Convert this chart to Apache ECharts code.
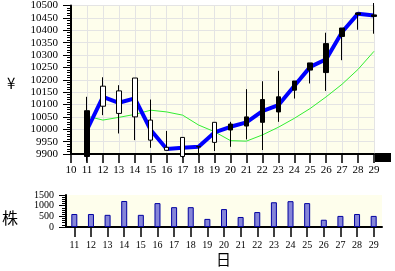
<!DOCTYPE html>
<html><head><meta charset="utf-8">
<script src="https://cdn.jsdelivr.net/npm/echarts@6/dist/echarts.min.js"></script>
<style>html,body{margin:0;padding:0;background:#fff}#c{width:395px;height:271px}</style>
</head><body><div id="c"></div>
<script>
const priceDays = ['10','11','12','13','14','15','16','17','18','19','20','21','22','23','24','25','26','27','28','29'];
const volDays = ['11','12','13','14','15','16','17','18','19','20','21','22','23','24','25','26','27','28','29'];
// [open, close, low, high]
const candles = [
  ['-', '-', '-', '-'],
  [10075, 9890, 9870, 10131],
  [10093, 10174, 10057, 10210],
  [10064, 10155, 9983, 10178],
  [10050, 10207, 9956, 10207],
  [9956, 10037, 9925, 10120],
  [9915, 9927, 9915, 9993],
  [9890, 9967, 9885, 9967],
  [9929, 9931, 9895, 9931],
  [9947, 10028, 9912, 10028],
  [10021, 9997, 9929, 10030],
  [10050, 10013, 9959, 10162],
  [10120, 10028, 9916, 10194],
  [10131, 10070, 10030, 10236],
  [10195, 10158, 10124, 10195],
  [10268, 10239, 10185, 10268],
  [10346, 10229, 10155, 10390],
  [10409, 10375, 10279, 10409],
  [10470, 10464, 10402, 10470],
  [10462, 10456, 10386, 10510]
];
const blueLine = ['-', 9997, 10131, 10107, 10125, 9997, 9920, 9925, 9929, 9987, 10010, 10028, 10073, 10097, 10175, 10252, 10283, 10393, 10467, 10460];
const greenLine = ['-', 10053, 10037, 10048, 10060, 10077, 10070, 10057, 10017, 9990, 9954, 9952, 9977, 10008, 10044, 10084, 10131, 10182, 10242, 10315];
const volumes = [610, 610, 570, 1220, 570, 1120, 930, 930, 380, 840, 470, 700, 1160, 1210, 1120, 340, 520, 610, 520];

const font = 'Liberation Serif';
const plain = v => String(v);
const chart = echarts.init(document.getElementById('c'), null, {renderer: 'canvas'});
chart.setOption({
  animation: false,
  backgroundColor: '#fff',
  grid: [
    {left: 71, right: 21, top: 5, bottom: 117, show: true, backgroundColor: '#fefeec', borderWidth: 0},
    {left: 66, right: 13, top: 195, bottom: 44, show: true, backgroundColor: '#fefeec', borderWidth: 0}
  ],
  xAxis: [
    {type: 'category', gridIndex: 0, data: priceDays, boundaryGap: false,
     axisLine: {lineStyle: {color: '#000', width: 2}},
     axisTick: {show: true, length: 9, inside: false, lineStyle: {color: '#000', width: 1.5}, alignWithLabel: true},
     axisLabel: {color: '#000', fontFamily: font, fontSize: 11, margin: 11, interval: 0},
     splitLine: {show: true, lineStyle: {color: '#e4e4e4', width: 1}}},
    {type: 'category', gridIndex: 1, data: volDays, boundaryGap: true,
     axisLine: {lineStyle: {color: '#000', width: 2}},
     axisTick: {show: true, length: 10, alignWithLabel: true, lineStyle: {color: '#000', width: 1.5}},
     axisLabel: {color: '#000', fontFamily: font, fontSize: 10, margin: 13, interval: 0},
     splitLine: {show: false}}
  ],
  yAxis: [
    {type: 'value', gridIndex: 0, min: 9900, max: 10500, interval: 50,
     axisLine: {show: true, lineStyle: {color: '#000', width: 2}},
     axisTick: {show: true, length: 8, lineStyle: {color: '#000'}},
     minorTick: {show: true, splitNumber: 5, length: 4, lineStyle: {color: '#000'}},
     axisLabel: {color: '#000', fontFamily: font, fontSize: 11, margin: 13, formatter: plain},
     splitLine: {show: true, lineStyle: {color: '#e4e4e4', width: 1}}},
    {type: 'value', gridIndex: 1, min: 0, max: 1500, interval: 500,
     axisLine: {show: true, lineStyle: {color: '#000', width: 2}},
     axisTick: {show: true, length: 7, lineStyle: {color: '#000'}},
     minorTick: {show: true, splitNumber: 5, length: 4, lineStyle: {color: '#000'}},
     axisLabel: {color: '#000', fontFamily: font, fontSize: 10, margin: 12, formatter: plain},
     splitLine: {show: false}}
  ],
  series: [
    {type: 'line', xAxisIndex: 0, yAxisIndex: 0, data: greenLine, symbol: 'none',
     lineStyle: {color: '#33ee33', width: 1}, z: 2},
    {type: 'line', xAxisIndex: 0, yAxisIndex: 0, data: blueLine, symbol: 'none',
     lineStyle: {color: '#0000ff', width: 4}, z: 3},
    {type: 'candlestick', xAxisIndex: 0, yAxisIndex: 0, data: candles, barWidth: 5, clip: true,
     itemStyle: {color: '#ffffff', color0: '#000000', borderColor: '#000000', borderColor0: '#000000', borderWidth: 1}, z: 4},
    {type: 'bar', xAxisIndex: 1, yAxisIndex: 1, data: volumes, barWidth: 6,
     itemStyle: {color: '#8585d8', borderColor: '#0000a0', borderWidth: 1}}
  ],
  graphic: [
    {type: 'text', left: 7, top: 76, style: {text: '¥', font: '15px "Noto Sans CJK JP"', fill: '#000'}},
    {type: 'text', left: 2, top: 210, style: {text: '株', font: '16px "Noto Sans CJK JP"', fill: '#000'}},
    {type: 'text', left: 216, top: 252, style: {text: '日', font: '15px "Noto Sans CJK JP"', fill: '#000'}},
    {type: 'rect', shape: {x: 375, y: 153, width: 16, height: 9}, style: {fill: '#000'}}
  ]
});
</script></body></html>
